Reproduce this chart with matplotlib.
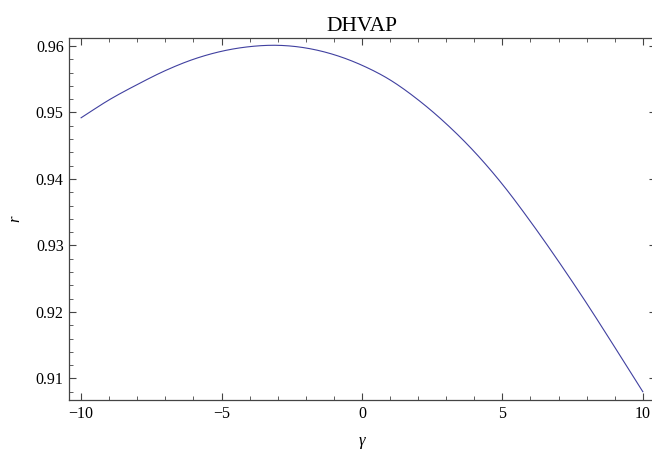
import numpy as np
import matplotlib
matplotlib.use("Agg")
import matplotlib.pyplot as plt
from matplotlib.ticker import MultipleLocator

plt.rcParams['font.family'] = ['Liberation Serif', 'DejaVu Serif']

# data
gamma = [-10, -9, -8, -7, -6, -5, -4, -3, -2, -1, 0, 1, 2, 3, 4, 5, 6, 7, 8, 9, 10]
r_vals = [0.9492, 0.9519, 0.9542, 0.9563, 0.9580, 0.9592, 0.9599, 0.9601, 0.9597,
          0.9587, 0.9571, 0.9549, 0.9519, 0.9483, 0.9441, 0.9392, 0.9336, 0.9276,
          0.9213, 0.9147, 0.9080]
title = "DHVAP"
xlabel = "γ"
ylabel = "r"

# smooth rendering (piecewise cubic Hermite through the read points)
x = np.array(gamma, float)
y = np.array(r_vals, float)
m = np.gradient(y, x)
xs, ys = [], []
for i in range(len(x) - 1):
    h = x[i + 1] - x[i]
    t = np.linspace(0, 1, 20, endpoint=False)
    h00 = 2 * t**3 - 3 * t**2 + 1
    h10 = t**3 - 2 * t**2 + t
    h01 = -2 * t**3 + 3 * t**2
    h11 = t**3 - t**2
    xs.append(x[i] + t * h)
    ys.append(h00 * y[i] + h10 * h * m[i] + h01 * y[i + 1] + h11 * h * m[i + 1])
xs.append([x[-1]]); ys.append([y[-1]])
xs = np.concatenate(xs); ys = np.concatenate(ys)

fig = plt.figure(figsize=(6.52, 4.54), dpi=100)
left_px, right_px = 69.3, 655.5
ax = fig.add_axes([left_px / 652, 1 - 400 / 454, (right_px - left_px) / 652, (400 - 38) / 454])
ax.plot(xs, ys, color='#4040a0', lw=0.8)
ax.set_xlim(-10.42, 10.42 + (right_px - 654.6) / 28.1)
ax.set_ylim(0.90675, 0.9612)

frame = '#444444'
for s in ax.spines.values():
    s.set_color(frame)
    s.set_linewidth(0.9)

ax.xaxis.set_major_locator(MultipleLocator(5))
ax.xaxis.set_minor_locator(MultipleLocator(1))
ax.yaxis.set_major_locator(MultipleLocator(0.01))
ax.yaxis.set_minor_locator(MultipleLocator(0.002))
ax.yaxis.set_major_formatter(matplotlib.ticker.FuncFormatter(lambda v, p: f"{v:.2f}"))
ax.tick_params(which='both', direction='in', top=True, right=True, color=frame,
               labelsize=11.5, labelcolor='black')
ax.tick_params(which='major', length=5, width=0.8)
ax.tick_params(which='minor', length=3, width=0.6)
ax.tick_params(axis='x', which='major', pad=4)
ax.tick_params(axis='y', which='major', pad=4)

ax.set_title(title, fontsize=15.5, pad=5)
ax.set_xlabel(xlabel, fontsize=12, style='italic', labelpad=8)
ax.set_ylabel(ylabel, fontsize=12, style='italic', labelpad=9, rotation=90)

fig.savefig("out.png", dpi=100)
